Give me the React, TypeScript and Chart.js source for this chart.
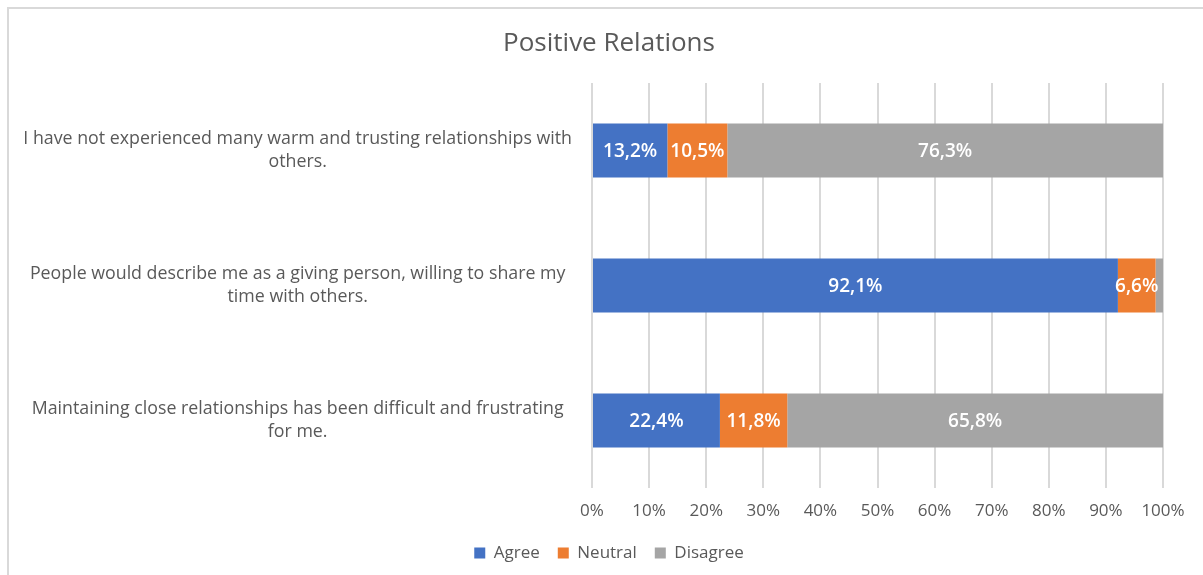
import React, { useEffect, useRef } from "react";
import { Chart, registerables } from "chart.js";

Chart.register(...registerables);

const categories: string[][] = [
  ["I have not experienced many warm and trusting relationships with", "others."],
  ["People would describe me as a giving person, willing to share my", "time with others."],
  ["Maintaining close relationships has been difficult and frustrating", "for me."],
];
const agree = [13.2, 92.1, 22.4];
const neutral = [10.5, 6.6, 11.8];
const disagree = [76.3, 1.3, 65.8];
const seriesNames = ["Agree", "Neutral", "Disagree"];
const seriesColors = ["#4472C4", "#ED7D31", "#A5A5A5"];
const chartTitle = "Positive Relations";

const FONT = "'Open Sans', 'Liberation Sans', sans-serif";
const TEXT = "#595959";

const labelPlugin = {
  id: "segLabels",
  afterDatasetsDraw(chart: any) {
    const ctx = chart.ctx;
    ctx.save();
    ctx.font = `600 19px ${FONT}`;
    ctx.fillStyle = "#ffffff";
    ctx.textAlign = "center";
    ctx.textBaseline = "middle";
    chart.data.datasets.forEach((ds: any, di: number) => {
      const meta = chart.getDatasetMeta(di);
      meta.data.forEach((bar: any, i: number) => {
        const v = ds.data[i];
        if (v < 3) return;
        const x = (bar.x + bar.base) / 2;
        ctx.fillText(v.toFixed(1).replace(".", ",") + "%", x, bar.y + 1);
      });
    });
    ctx.restore();
  },
};

export default function App() {
  const ref = useRef<HTMLCanvasElement>(null);
  useEffect(() => {
    const data = [agree, neutral, disagree];
    const chart = new Chart(ref.current!, {
      type: "bar",
      data: {
        labels: categories,
        datasets: seriesNames.map((n, k) => ({
          label: n,
          data: data[k],
          backgroundColor: seriesColors[k],
          borderWidth: 0,
          categoryPercentage: 1,
          barPercentage: 0.4,
        })),
      },
      options: {
        indexAxis: "y",
        animation: false,
        responsive: false,
        maintainAspectRatio: false,
        layout: { padding: { left: 0, right: 10, top: 0, bottom: 17.5 } },
        plugins: {
          title: {
            display: true,
            text: chartTitle,
            color: TEXT,
            font: { family: FONT, size: 26, weight: "normal", lineHeight: 1.2 },
            padding: { top: 19.4, bottom: 23.4 },
          },
          legend: {
            position: "bottom",
            labels: {
              boxWidth: 11,
              boxHeight: 11,
              padding: 18,
              color: TEXT,
              font: { family: FONT, size: 17 },
            },
          },
          tooltip: { enabled: false },
        },
        scales: {
          x: {
            stacked: true,
            min: 0,
            max: 100,
            ticks: {
              stepSize: 10,
              padding: 13,
              color: TEXT,
              font: { family: FONT, size: 17, lineHeight: 1.2 },
              callback: (v: any) => v + "%",
            },
            grid: { color: "#d9d9d9", lineWidth: 2, drawTicks: false },
            border: { display: false },
            afterFit: (s: any) => { s.height = 38.5; },
          },
          y: {
            stacked: true,
            ticks: {
              padding: 20,
              crossAlign: "center",
              color: TEXT,
              font: { family: FONT, size: 17.8, lineHeight: 1.3 },
            },
            grid: { display: false, drawTicks: false },
            border: { display: false },
            afterFit: (s: any) => { s.width = 583; },
          },
          yRight: {
            type: "category",
            position: "right",
            display: true,
            ticks: { display: false },
            grid: { display: false, drawTicks: false },
            border: { display: false },
            afterFit: (s: any) => { s.width = 46; },
          },
        },
      },
      plugins: [labelPlugin],
    } as any);
    return () => chart.destroy();
  }, []);

  return (
    <div style={{ position: "fixed", left: 0, top: 0, width: 1203, height: 575, overflow: "hidden", background: "#fff" }}>
      <div style={{ position: "absolute", left: 7, top: 7, width: 1210, height: 600, borderLeft: "2px solid #d9d9d9", borderTop: "2px solid #d9d9d9" }}>
        <canvas ref={ref} width={1210} height={580} style={{ display: "block" }} />
      </div>
    </div>
  );
}
